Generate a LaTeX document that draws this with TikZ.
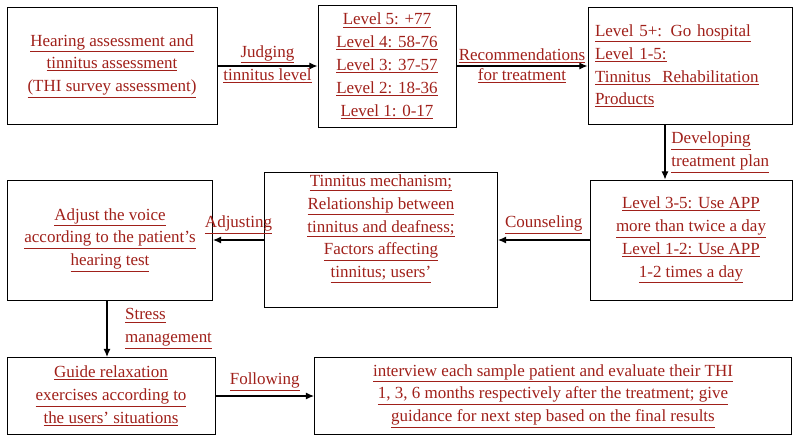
\documentclass[tikz,border=0pt]{standalone}
\usepackage{fontspec}
\setmainfont{Liberation Serif}
\usepackage{xcolor}
\usetikzlibrary{arrows.meta}
\definecolor{txtred}{HTML}{A0201A}
\newcommand{\uln}[1]{\underline{#1}}
\tikzset{
  stepbox/.style={draw, thick, align=center, text=txtred, font=\fontsize{14.5}{19.5}\selectfont, inner sep=2pt},
  lbl/.style={text=txtred, align=left, font=\fontsize{14.5}{19.5}\selectfont, inner sep=1pt},
  flow/.style={line width=1pt, -{Latex[length=7pt,width=6pt]}}
}
\begin{document}
\begin{tikzpicture}[x=0.03cm, y=-0.03cm]
\useasboundingbox (0,0) rectangle (800,443);

%top row
\node[stepbox, minimum width=210*0.03cm, minimum height=117*0.03cm] (hear) at (112,66)
  {\uln{Hearing assessment and}\\ \uln{tinnitus assessment}\\ \uln{(THI survey assessment)}};
\node[stepbox, minimum width=138*0.03cm, minimum height=122*0.03cm] (level) at (387,66)
  {\uln{Level 5: +77}\\ \uln{Level 4: 58-76}\\ \uln{Level 3: 37-57}\\ \uln{Level 2: 18-36}\\ \uln{Level 1: 0-17}};
\node[stepbox, align=left, text width=190*0.03cm, minimum width=204*0.03cm, minimum height=117*0.03cm] (hosp) at (690,66)
  {\uln{Level 5+: Go hospital}\\ \uln{Level 1-5:}\\ \uln{Tinnitus\ \ Rehabilitation}\\ \uln{Products}\\[8pt]};

%middle row
\node[stepbox, minimum width=202*0.03cm, minimum height=120*0.03cm] (app) at (691,240)
  {\uln{Level 3-5: Use APP}\\ \uln{more than twice a day}\\ \uln{Level 1-2: Use APP}\\ \uln{1-2 times a day}};
\node[stepbox, minimum width=233*0.03cm, minimum height=120*0.03cm] (mech) at (381,240)
  {\uln{Tinnitus mechanism;}\\ \uln{Relationship between}\\ \uln{tinnitus and deafness;}\\ \uln{Factors affecting}\\ \uln{tinnitus; users'}\\[4pt]};
\node[stepbox, minimum width=205*0.03cm, minimum height=120*0.03cm] (voice) at (110,240)
  {\uln{Adjust the voice}\\ \uln{according to the patient's}\\ \uln{hearing test}};

%bottom row
\node[stepbox, minimum width=208*0.03cm, minimum height=77*0.03cm] (relax) at (111,396)
  {\uln{Guide relaxation}\\ \uln{exercises according to}\\ \uln{the users' situations}};
\node[stepbox, minimum width=477*0.03cm, minimum height=77*0.03cm] (visit) at (553,396)
  {\uln{interview each sample patient and evaluate their THI}\\ \uln{1, 3, 6 months respectively after the treatment; give}\\ \uln{guidance for next step based on the final results}};

%arrows & labels
\draw[flow] (hear.east) -- (level.west)
  node[lbl, midway, above, yshift=1pt] {\uln{Judging}} node[lbl, midway, below, yshift=-1pt] {\uln{tinnitus level}};
\draw[flow] (level.east) -- (hosp.west)
  node[lbl, midway, above, yshift=1pt] {\uln{Recommendations}} node[lbl, midway, below, yshift=-1pt] {\uln{for treatment}};
\draw[flow] (hosp.south -| app.north) ++(-26,0) coordinate (dtop) -- (dtop |- app.north)
  node[lbl, midway, right=4pt] {\uln{Developing}\\ \uln{treatment plan}};
\draw[flow] (app.west) -- (mech.east) node[lbl, midway, above, yshift=4pt] {\uln{Counseling}};
\draw[flow] (mech.west) -- (voice.east) node[lbl, midway, above, yshift=4pt] {\uln{Adjusting}};
\draw[flow] (voice.south) ++(-3,0) coordinate (vtop) -- (vtop |- relax.north)
  node[lbl, midway, right=14pt] {\uln{Stress}\\ \uln{management}};
\draw[flow] (relax.east) -- (visit.west) node[lbl, midway, above, yshift=3pt] {\uln{Following}};
\end{tikzpicture}
\end{document}
